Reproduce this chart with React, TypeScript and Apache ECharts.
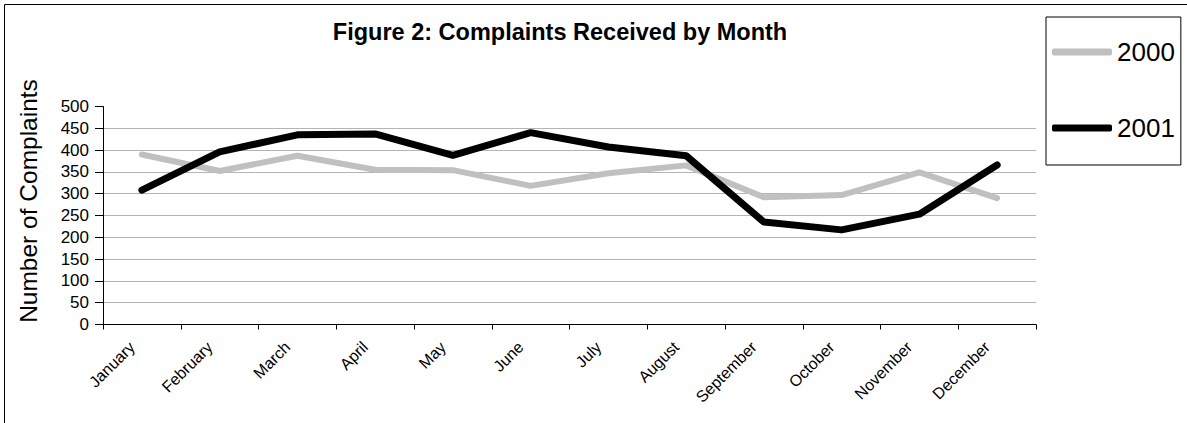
import React, { useEffect, useRef } from "react";
import * as echarts from "echarts";

const months = [
  "January", "February", "March", "April", "May", "June",
  "July", "August", "September", "October", "November", "December",
];
const values2000 = [390, 352, 387, 355, 354, 318, 347, 365, 292, 297, 349, 290];
const values2001 = [308, 396, 435, 437, 388, 440, 407, 387, 235, 217, 253, 366];
const seriesNames = ["2000", "2001"];
const titleText = "Figure 2: Complaints Received by Month";
const yAxisTitle = "Number of Complaints";

const FONT = "'Liberation Sans', Arial, Helvetica, sans-serif";

export default function App() {
  const ref = useRef<HTMLDivElement>(null);
  useEffect(() => {
    if (!ref.current) return;
    const chart = echarts.init(ref.current, null, { renderer: "svg" });
    chart.setOption({
      animation: false,
      backgroundColor: "#ffffff",
      textStyle: { fontFamily: FONT, color: "#000" },
      title: {
        text: titleText,
        left: 560,
        top: 20,
        padding: 0,
        textAlign: "center",
        textStyle: { fontFamily: FONT, fontSize: 23.5, fontWeight: "bold", color: "#000" },
      },
      legend: {
        orient: "vertical",
        left: 1046,
        top: 17,
        icon: "roundRect",
        itemWidth: 60,
        itemHeight: 7,
        itemGap: 50,
        padding: [22, 6, 24, 6],
        borderColor: "#000",
        borderWidth: 1,
        borderRadius: 0,
        data: seriesNames,
        textStyle: { fontFamily: FONT, fontSize: 26, color: "#000", padding: [5, 0, 0, 0] },
      },
      graphic: [
        {
          type: "rect",
          shape: { x: 4.5, y: 4.5, width: 1300, height: 500 },
          style: { fill: "none", stroke: "#000", lineWidth: 1 },
          silent: true,
        },
        {
          type: "text",
          x: 28,
          y: 201,
          rotation: Math.PI / 2,
          style: {
            text: yAxisTitle,
            font: `24.5px ${FONT}`,
            fill: "#000",
            align: "center",
            verticalAlign: "middle",
          },
        },
      ],
      grid: { left: 103, top: 106.5, width: 933, height: 218, containLabel: false },
      xAxis: {
        type: "category",
        data: months,
        boundaryGap: true,
        axisLine: { show: true, lineStyle: { color: "#000", width: 1 } },
        axisTick: { show: true, length: 5, interval: 0, lineStyle: { color: "#000" } },
        axisLabel: {
          interval: 0,
          rotate: 45,
          margin: 10,
          padding: [0, 14, 0, 0],
          fontSize: 16,
          fontFamily: FONT,
          color: "#000",
        },
        splitLine: { show: false },
      },
      yAxis: {
        type: "value",
        min: 0,
        max: 500,
        interval: 50,
        axisLine: { show: true, lineStyle: { color: "#000", width: 1 } },
        axisTick: { show: true, length: 8, lineStyle: { color: "#000" } },
        axisLabel: { margin: 14, fontSize: 17, fontFamily: FONT, color: "#000" },
        splitLine: { show: true, showMaxLine: false, lineStyle: { color: "#b4b4b4", width: 1 } },
      },
      series: [
        {
          name: seriesNames[0],
          type: "line",
          data: values2000,
          symbol: "none",
          color: "#c0c0c0",
          itemStyle: { color: "#c0c0c0" },
          lineStyle: { color: "#c0c0c0", width: 6, cap: "round", join: "round" },
        },
        {
          name: seriesNames[1],
          type: "line",
          data: values2001,
          symbol: "none",
          color: "#000000",
          itemStyle: { color: "#000000" },
          lineStyle: { color: "#000000", width: 7, cap: "round", join: "round" },
        },
      ],
    });
    return () => chart.dispose();
  }, []);
  return (
    <div
      ref={ref}
      style={{ position: "absolute", left: 0, top: 0, width: 1187, height: 423 }}
    />
  );
}
